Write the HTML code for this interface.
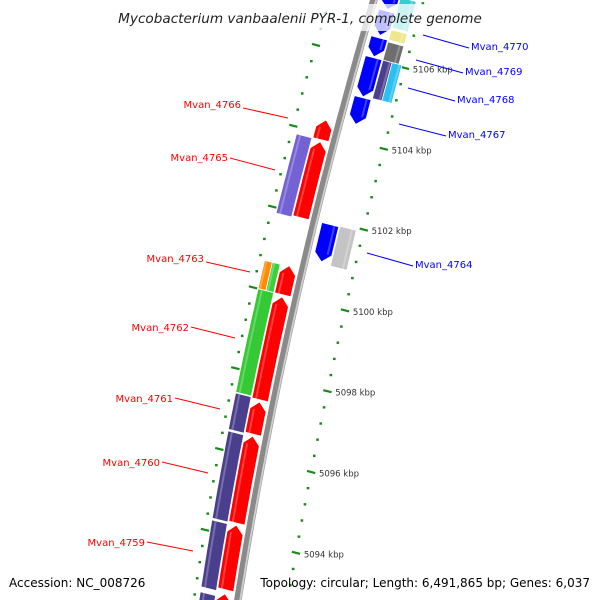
<!DOCTYPE html>
<html><head><meta charset="utf-8"><style>
html,body{margin:0;padding:0;background:#fff;width:600px;height:600px;overflow:hidden;}
svg{display:block;overflow:hidden;}
text{font-family:"DejaVu Sans","Liberation Sans",sans-serif;}
</style></head><body>
<svg id="map" width="600" height="600" viewBox="0 0 600 600" xmlns="http://www.w3.org/2000/svg">
<g id="ticks"></g>
<g id="backbone"></g>
<g id="features"></g>
<g id="labels"></g>
<rect x="112" y="4" width="376" height="27" fill="#fff" opacity="0.75"/>
<text x="300" y="23" text-anchor="middle" font-size="13.6" font-style="italic" fill="#222">Mycobacterium vanbaalenii PYR-1, complete genome</text>
<text x="9" y="587" font-size="12" fill="#000">Accession: NC_008726</text>
<text x="590" y="587" text-anchor="end" font-size="12" fill="#000">Topology: circular; Length: 6,491,865 bp; Genes: 6,037</text>
</svg>
<script>
// ---- data ----
const geneNames = ["Mvan_4766","Mvan_4765","Mvan_4763","Mvan_4762","Mvan_4761","Mvan_4760","Mvan_4759","Mvan_4758",
  "Mvan_4765b","Mvan_4763b","Mvan_4763c","Mvan_4762b","Mvan_4761b","Mvan_4760b","Mvan_4759b","Mvan_4758b",
  "Mvan_4764","Mvan_4767","Mvan_4768","Mvan_4769","Mvan_4770","Mvan_4771",
  "Mvan_4764b","Mvan_4768b","Mvan_4768c","Mvan_4769b","Mvan_4770b","Mvan_4771b"];
const geneStarts = [5104.33,5103.79,5100.72,5099.95,5097.35,5096.5,5094.3,5092.6,
  5103.83,5100.7,5100.7,5100.0,5097.42,5096.48,5094.28,5092.5,
  5101.92,5105.06,5106.05,5106.54,5107.2,5107.6,
  5101.94,5106.05,5106.05,5106.5,5106.8,5107.6];
const geneEnds = [5103.84,5101.91,5100.0,5097.4,5096.55,5094.35,5092.7,5091.0,
  5101.87,5100.0,5100.0,5097.44,5096.52,5094.32,5092.62,5091.0,
  5101.0,5104.4,5105.08,5106.07,5106.6,5107.25,
  5100.95,5105.1,5105.1,5106.05,5106.55,5106.85];
const geneRows = ["L1","L1","L1","L1","L1","L1","L1","L1",
  "L2","L2o","L2i","L2","L2","L2","L2","L2",
  "R1","R1","R1","R1","R1","R1",
  "R2","R2a","R2b","R2","R2","R2"];
const geneColors = ["#ff0000","#ff0000","#ff0000","#ff0000","#ff0000","#ff0000","#ff0000","#ff0000",
  "#7462d4","#ff8c00","#3ccf3c","#36c936","#4a3f8c","#4a3f8c","#4a3f8c","#4a3f8c",
  "#0000ff","#0000ff","#0000ff","#0000ff","#0000ff","#0000ff",
  "#c4c4c4","#4a3f8c","#2cc0f0","#6e6e6e","#f0e68c","#30d0d0"];
const tickStartKbp = 5090, tickEndKbp = 5108.4, tickStep = 0.4;
const majorLabels = [5106,5104,5102,5100,5098,5096,5094];

// ---- geometry ----
const rowT = {L1:[0.59,0.765],L2:[0.775,0.945],L2o:[0.86,0.945],L2i:[0.775,0.86],R1:[0.45,0.265],R2:[0.255,0.075],R2a:[0.255,0.15],R2b:[0.15,0.04]};
function P(kbp,t){
  const u = 5106 - kbp;
  const rx = 405 - 10.917*u + 0.1528*u*u, ry = 68 + 40.4*u;
  const lx = 316 - 11.75*u + 0.2083*u*u, ly = 45 + 40.4*u;
  return [rx + t*(lx-rx), ry + t*(ly-ry)];
}
const NS = "http://www.w3.org/2000/svg";
function mk(tag, parent){ const e=document.createElementNS(NS,tag); parent.appendChild(e); return e; }
function ptsStr(a){ return a.map(p=>p[0].toFixed(1)+","+p[1].toFixed(1)).join(" "); }

// ticks
const tg = document.getElementById("ticks");
const nT = Math.round((tickEndKbp - tickStartKbp)/tickStep);
for (let i=0;i<=nT;i++){
  const k = tickStartKbp + i*tickStep;
  const major = Math.abs(k/2 - Math.round(k/2)) < 1e-6;
  [0,1].forEach(t=>{
    if (major){
      const a = P(k,t-0.045), b = P(k,t+0.045);
      const l = mk("line",tg);
      
      
      l.setAttribute("x1",a[0]);l.setAttribute("y1",a[1]);l.setAttribute("x2",b[0]);l.setAttribute("y2",b[1]);
      l.setAttribute("stroke","#1a8a1a");l.setAttribute("stroke-width","2.2");
    } else {
      const c = P(k,t);
      const r = mk("rect",tg);
      
      
      r.setAttribute("x",c[0]-1.3);r.setAttribute("y",c[1]-1.2);r.setAttribute("width","2.6");r.setAttribute("height","2.4");
      r.setAttribute("fill","#1a8a1a");
    }
  });
}
majorLabels.forEach(k=>{
  const c = P(k,-0.02);
  const tx = mk("text",tg);
  
  
  tx.setAttribute("x",c[0]+6);tx.setAttribute("y",c[1]+4);tx.setAttribute("font-size","8.5");tx.setAttribute("fill","#333");
  tx.textContent = k + " kbp";
});

// backbone
const bg = document.getElementById("backbone");
function curve(t, k0, k1){ const a=[]; for(let k=k0;k>=k1;k-=0.2) a.push(P(k,t)); return a; }
[[0.53,"#8a8a8a",7.5],[0.505,"#cfcfcf",1.8]].forEach(s=>{
  const pl = mk("polyline",bg);
  
  
  pl.setAttribute("points",ptsStr(curve(s[0],5109,5091)));
  pl.setAttribute("fill","none");pl.setAttribute("stroke",s[1]);pl.setAttribute("stroke-width",s[2]);
});

// features
const fg = document.getElementById("features");
geneNames.forEach((name,i)=>{
  const row = geneRows[i], tr = rowT[row];
  const hi = geneStarts[i], lo = geneEnds[i];
  const ta = tr[0], tb = tr[1], tm = (ta+tb)/2;
  let arrow = 0;
  if (row==="L1") arrow = 1;
  if (row==="R1") arrow = -1;
  const h = Math.min(0.2,(hi-lo)*0.5);
  let bHi = hi, bLo = lo;
  if (arrow===1) bHi = hi - h;
  if (arrow===-1) bLo = lo + h;
  const sideA=[], sideB=[];
  const n = Math.max(2, Math.ceil((bHi-bLo)/0.2));
  for(let j=0;j<=n;j++){ const k = bHi - (bHi-bLo)*j/n; sideA.push(P(k,ta)); sideB.push(P(k,tb)); }
  let pts = [];
  if (arrow===1) pts.push(P(hi,tm));
  pts = pts.concat(sideA);
  if (arrow===-1) pts.push(P(lo,tm));
  pts = pts.concat(sideB.reverse());
  const pg = mk("polygon",fg);
  
  
  pg.setAttribute("points",ptsStr(pts));
  pg.setAttribute("fill",geneColors[i]);
  pg.setAttribute("stroke","#ffffff");pg.setAttribute("stroke-width","0.8");
  const hl = mk("polyline",fg);
  
  
  const stripe=[]; for(let j=0;j<=n;j++){ const k=bHi-(bHi-bLo)*j/n; stripe.push(P(k, tb + (ta-tb)*0.25)); }
  hl.setAttribute("points",ptsStr(stripe));
  hl.setAttribute("fill","none");hl.setAttribute("stroke","#ffffff");hl.setAttribute("stroke-opacity","0.25");hl.setAttribute("stroke-width","2");
});

// labels
const labelNames = ["Mvan_4766","Mvan_4765","Mvan_4763","Mvan_4762","Mvan_4761","Mvan_4760","Mvan_4759","Mvan_4770","Mvan_4769","Mvan_4768","Mvan_4767","Mvan_4764"];
const labelColors = ["#ff0000","#ff0000","#ff0000","#ff0000","#ff0000","#ff0000","#ff0000","#0000ff","#0000ff","#0000ff","#0000ff","#0000ff"];
const labelLayout = [[241,108,243,108,288,118],[228,161,230,158,275,170],[204,262,206,262,250,272],[189,331,191,327,235,338],[173,402,175,398,220,409],[160,466,162,462,208,473],[145,546,147,542,193,551],
  [471,50,469,48,423,35],[465,75,463,73,416,60],[457,103,455,101,408,88],[448,138,446,136,399,124],[415,268,413,266,367,253]];
const lg = document.getElementById("labels");
labelNames.forEach((nm,i)=>{
  const L = labelLayout[i], right = labelColors[i]==="#0000ff";
  const ln = mk("line",lg);
  
  
  ln.setAttribute("x1",L[2]);ln.setAttribute("y1",L[3]);ln.setAttribute("x2",L[4]);ln.setAttribute("y2",L[5]);
  ln.setAttribute("stroke",labelColors[i]);ln.setAttribute("stroke-width","1");
  const tx = mk("text",lg);
  
  
  tx.setAttribute("x",L[0]);tx.setAttribute("y",L[1]);
  tx.setAttribute("text-anchor", right ? "start" : "end");
  tx.setAttribute("font-size","10");tx.setAttribute("fill",labelColors[i]);
  tx.textContent = nm;
});
</script>
</body></html>
